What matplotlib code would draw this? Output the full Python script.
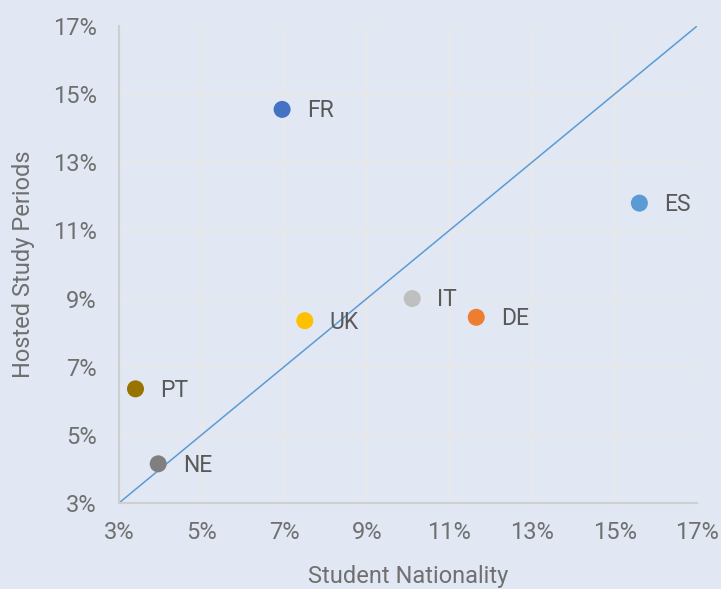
import matplotlib.pyplot as plt
from matplotlib.ticker import FuncFormatter

countries = ['FR', 'ES', 'IT', 'DE', 'UK', 'PT', 'NE']
nationality = [6.95, 15.6, 10.1, 11.65, 7.5, 3.4, 3.95]
hosted = [14.55, 11.8, 9.0, 8.45, 8.35, 6.35, 4.15]
colors = ['#4472C4', '#5B9BD5', '#BFBFBF', '#ED7D31', '#FFC000', '#997300', '#7F7F7F']
ticks = [3, 5, 7, 9, 11, 13, 15, 17]

bg = '#E1E8F3'
txt = '#707070'

plt.rcParams['font.family'] = ['Roboto', 'DejaVu Sans']

fig = plt.figure(figsize=(7.21, 5.89), dpi=100)
fig.patch.set_facecolor(bg)
ax = fig.add_axes([0.165, 0.146, 0.802, 0.81])
ax.set_facecolor(bg)

# diagonal reference line
ax.plot([3, 17], [3, 17], color='#5B9BD5', lw=1.1, zorder=2)

ax.scatter(nationality, hosted, c=colors, s=150, zorder=3, linewidths=0)
for c, x, y in zip(countries, nationality, hosted):
    ax.annotate(c, (x, y), xytext=(18, -1), textcoords='offset points',
                va='center', ha='left', fontsize=16.5, color='#595959', zorder=4)

ax.set_xlim(3, 17)
ax.set_ylim(3, 17)
ax.set_xticks(ticks)
ax.set_yticks(ticks)
pct = FuncFormatter(lambda v, p: f'{v:.0f}%')
ax.xaxis.set_major_formatter(pct)
ax.yaxis.set_major_formatter(pct)
ax.tick_params(length=0, labelsize=17, colors=txt, pad=13)
ax.tick_params(axis='y', pad=16)
ax.grid(True, color='#E8E8E8', lw=1.5, zorder=0)
ax.set_axisbelow(True)

for s in ['top', 'right']:
    ax.spines[s].set_visible(False)
for s in ['left', 'bottom']:
    ax.spines[s].set_color('#CFCFCF')
    ax.spines[s].set_linewidth(1.5)

ax.set_xlabel('Student Nationality', fontsize=17, color=txt, labelpad=15)
ax.set_ylabel('Hosted Study Periods', fontsize=17, color=txt, labelpad=13)

fig.savefig('out.png', dpi=100, facecolor=bg)
